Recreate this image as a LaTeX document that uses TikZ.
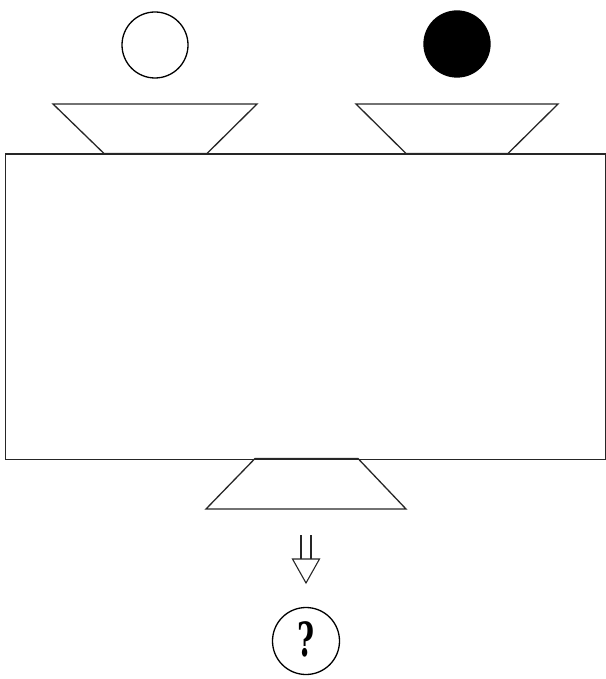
\documentclass[tikz,border=0pt]{standalone}
\usepackage{fontspec}
\newfontfamily\qfont{DejaVu Serif}
\begin{document}
\begin{tikzpicture}[x=1pt,y=-1pt,
  ln/.style={line width=1.3pt,black!85},
  ball/.style={circle,draw,line width=1.3pt,minimum size=66pt,inner sep=0pt},
]
\useasboundingbox (0,0) rectangle (605,679);
% circles
\node[ball] (white) at (155,45) {};
\node[ball,fill=black] (black) at (457,44) {};
% big box
\node[draw,ln,minimum width=600pt,minimum height=305pt,inner sep=0pt,anchor=north west] (box) at (4.5,153.5) {};
% top-left trapezoid
\draw[ln] (53,104) -- (257,104) -- (207,153.5) -- (104,153.5) -- cycle;
% top-right trapezoid
\draw[ln] (356,104) -- (558,104) -- (508,153.5) -- (406,153.5) -- cycle;
% bottom trapezoid
\draw[ln] (255,458.5) -- (358,458.5) -- (406,509) -- (206,509) -- cycle;
% question circle
\node[ball,minimum size=67pt] (q) at (306,641) {};
\node[font=\qfont\bfseries\fontsize{47}{47}\selectfont,xscale=0.62,inner sep=0pt] (qm) at ([yshift=1.5pt]q.center) {?};
% hollow double arrow
\coordinate (a1) at (306,535);
\coordinate (a2) at (306,583);
\draw[line width=1.1pt,black!85] ([xshift=-5pt]a1) -- ++(0,24) ([xshift=5pt]a1) -- ++(0,24);
\draw[line width=1.1pt,black!85,fill=white] (292.5,559) -- (319.5,559) -- (a2) -- cycle;
\end{tikzpicture}
\end{document}
